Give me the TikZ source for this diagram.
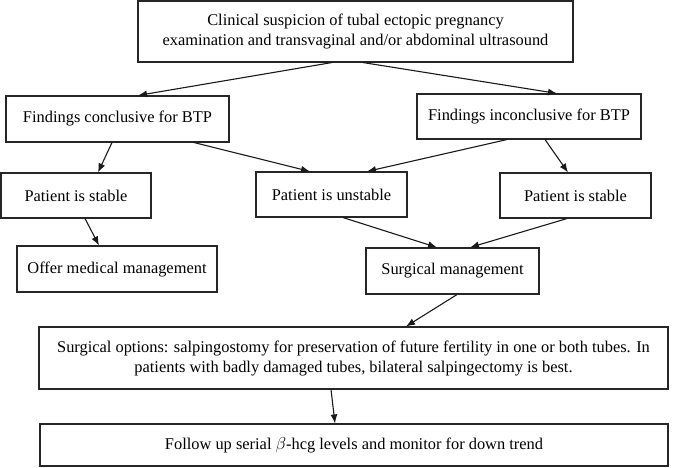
\documentclass[tikz,border=0pt]{standalone}
\usepackage{fontspec}
\setmainfont{Liberation Serif}
\usetikzlibrary{arrows.meta}
\begin{document}
\begin{tikzpicture}[x=1pt,y=1pt,
  box/.style={draw=black!85,line width=1.1pt,rectangle,inner sep=0pt,align=center,
    font=\fontsize{16.4}{20}\selectfont},
  arr/.style={-{Latex[length=9pt,width=7pt]},line width=1.1pt,black!90}]
\useasboundingbox (0,0) rectangle (674,468);
\node[box,minimum width=435pt,minimum height=61pt] (top) at (355.5,436.5)
  {Clinical suspicion of tubal ectopic pregnancy\\examination and transvaginal and/or abdominal ultrasound};
\node[box,minimum width=223pt,minimum height=46pt] (fc) at (117.5,349) {Findings conclusive for BTP};
\node[box,minimum width=224pt,minimum height=45pt] (fi) at (529,351.5) {Findings inconclusive for BTP};
\node[box,minimum width=150pt,minimum height=45pt] (sl) at (76,272.5) {Patient is stable};
\node[box,minimum width=151pt,minimum height=45pt] (un) at (331.5,273.5) {Patient is unstable};
\node[box,minimum width=151pt,minimum height=45pt] (sr) at (575.5,272.5) {Patient is stable};
\node[box,minimum width=200pt,minimum height=46pt] (om) at (117,199) {Offer medical management};
\node[box,minimum width=173pt,minimum height=46pt] (sm) at (452.5,197) {Surgical management};
\node[box,minimum width=629pt,minimum height=62pt] (so) at (353.5,110)
  {Surgical options: salpingostomy for preservation of future fertility in one or both tubes. In\\patients with badly damaged tubes, bilateral salpingectomy is best.};
\node[box,minimum width=628pt,minimum height=42pt] (fu) at (354,23)
  {Follow up serial $\beta$-hcg levels and monitor for down trend};
\draw[arr] ([xshift=-23.5pt]top.south) -- ([xshift=20.5pt]fc.north);
\draw[arr] ([xshift=7.5pt]top.south) -- ([xshift=28pt]fi.north);
\draw[arr] ([xshift=-5.5pt]fc.south) -- ([xshift=22pt]sl.north);
\draw[arr] ([xshift=76.5pt]fc.south) -- ([xshift=-21.5pt]un.north);
\draw[arr] ([xshift=-22pt]fi.south) -- ([xshift=35.5pt]un.north);
\draw[arr] ([xshift=16pt]fi.south) -- ([xshift=-7.5pt]sr.north);
\draw[arr] ([xshift=9pt]sl.south) -- ([xshift=-18pt]om.north);
\draw[arr] ([xshift=11.5pt]un.south) -- ([xshift=-15.5pt]sm.north);
\draw[arr] ([xshift=-8.5pt]sr.south) -- ([xshift=17.5pt]sm.north);
\draw[arr] ([xshift=4.5pt]sm.south) -- ([xshift=52.5pt]so.north);
\draw[arr] ([xshift=-22.5pt]so.south) -- ([xshift=-19pt]fu.north);
\end{tikzpicture}
\end{document}
